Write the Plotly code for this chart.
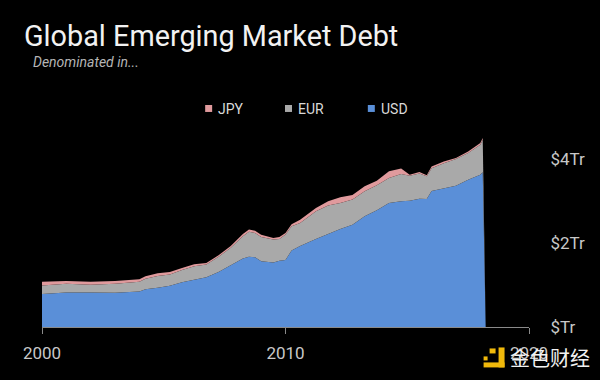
import plotly.graph_objects as go

years = [2000, 2001, 2002, 2003, 2004, 2004.25, 2004.75, 2005.25, 2005.75, 2006.25, 2006.75,
         2007.25, 2007.75, 2008.25, 2008.5, 2008.75, 2009, 2009.5, 2009.75, 2010, 2010.25,
         2010.6, 2011.25, 2011.75, 2012.25, 2012.75, 2013.25, 2013.75, 2014.25, 2014.75,
         2015.1, 2015.5, 2015.8, 2016, 2016.5, 2017, 2017.5, 2018, 2018.1, 2018.22]
usd = [0.79, 0.825, 0.825, 0.82, 0.85, 0.90, 0.935, 0.985, 1.07, 1.13, 1.19,
       1.31, 1.47, 1.635, 1.675, 1.665, 1.57, 1.54, 1.58, 1.60, 1.825,
       1.93, 2.10, 2.22, 2.34, 2.44, 2.64, 2.785, 2.96, 3.0,
       3.01, 3.06, 3.055, 3.245, 3.30, 3.37, 3.515, 3.635, 3.69, 0]
eur = [0.20, 0.205, 0.185, 0.21, 0.23, 0.25, 0.28, 0.27, 0.29, 0.32, 0.30,
       0.365, 0.42, 0.53, 0.595, 0.58, 0.58, 0.55, 0.52, 0.605, 0.58,
       0.55, 0.66, 0.68, 0.62, 0.60, 0.60, 0.595, 0.595, 0.65,
       0.60, 0.60, 0.54, 0.545, 0.61, 0.64, 0.635, 0.715, 0.78, 0]
jpy = [0.09, 0.07, 0.07, 0.065, 0.06, 0.06, 0.065, 0.055, 0.045, 0.05, 0.04,
       0.035, 0.04, 0.055, 0.055, 0.05, 0.05, 0.035, 0.05, 0.04, 0.045,
       0.08, 0.08, 0.10, 0.135, 0.11, 0.12, 0.11, 0.16, 0.13,
       0.025, 0.04, 0.025, 0.04, 0.04, 0.02, 0.04, 0.04, 0.04, 0]

title = "Global Emerging Market Debt"
subtitle = "Denominated in..."
x_ticks = [2000, 2010, 2020]
y_ticks = [0, 2, 4]
y_labels = ["$Tr", "$2Tr", "$4Tr"]
BLUE, GREY, PINK = "#5a8fd8", "#a9a9a9", "#e09a9d"
GOLD = "#f0b90b"
FONT = "Roboto"

def nx(p): return (p - 41.5) / 488
def ny(p): return (327.5 - p) / 232.5

fig = go.Figure()
for name, vals, col in [("USD", usd, BLUE), ("EUR", eur, GREY), ("JPY", jpy, PINK)]:
    fig.add_trace(go.Scatter(x=years, y=vals, name=name, mode="lines", stackgroup="one",
                             line=dict(width=0, color=col), fillcolor=col, showlegend=False))

annots, shapes = [], []
for name, col, sx, tx in [("JPY", PINK, 205, 217), ("EUR", GREY, 285, 297), ("USD", BLUE, 368, 380)]:
    shapes.append(dict(type="rect", xref="paper", yref="paper", x0=nx(sx), x1=nx(sx + 7),
                       y0=ny(112), y1=ny(105), fillcolor=col, line_width=0))
    annots.append(dict(text=name, xref="paper", yref="paper", x=nx(tx - 1), y=ny(109), xanchor="left",
                       yanchor="middle", showarrow=False, font=dict(family=FONT, size=14, color="#d9d9d9")))
annots += [
    dict(text=title, xref="paper", yref="paper", x=nx(21), y=ny(36), xanchor="left", yanchor="middle",
         showarrow=False, font=dict(family=FONT, size=28.8, color="#f2f2f2")),
    dict(text="<i>" + subtitle + "</i>", xref="paper", yref="paper", x=nx(30), y=ny(62), xanchor="left",
         yanchor="middle", showarrow=False, font=dict(family=FONT, size=14, color="#b5b5b5")),
    dict(text="金色财经", xref="paper", yref="paper", x=nx(508), y=ny(358), xanchor="left", yanchor="middle",
         showarrow=False, font=dict(family="Noto Sans CJK SC", size=20, color="#f2f2f2")),
]
for x0, y0, x1, y1 in [(499, 348, 505, 368), (484, 363, 505, 368), (484, 357, 488, 361), (490, 349, 496, 354)]:
    shapes.append(dict(type="rect", xref="paper", yref="paper", x0=nx(x0), x1=nx(x1),
                       y0=ny(y1), y1=ny(y0), fillcolor=GOLD, line_width=0))

fig.update_layout(
    width=600, height=380, autosize=False,
    margin=dict(l=41.5, r=70.5, t=95, b=52.5),
    paper_bgcolor="black", plot_bgcolor="black",
    font=dict(family=FONT, color="#c8c8c8"),
    xaxis=dict(range=[2000, 2020], tickvals=x_ticks, ticktext=[str(v) for v in x_ticks], showgrid=False, zeroline=False,
               showline=True, linecolor="#8a8a8a", linewidth=1, ticks="outside", ticklen=6, tickcolor="#8a8a8a",
               ticklabelstandoff=5, tickfont=dict(size=17, color="#c8c8c8")),
    yaxis=dict(range=[0, 232.5 / 42], side="right", tickvals=y_ticks, ticktext=y_labels, showgrid=False, zeroline=False,
               showline=False, ticks="outside", ticklen=17, tickcolor="black",
               tickfont=dict(size=17, color="#c8c8c8")),
    annotations=annots, shapes=shapes,
)
fig.write_html("out.html", config={"displayModeBar": False},
               post_script="document.body.style.margin='0';document.body.style.background='black';")
